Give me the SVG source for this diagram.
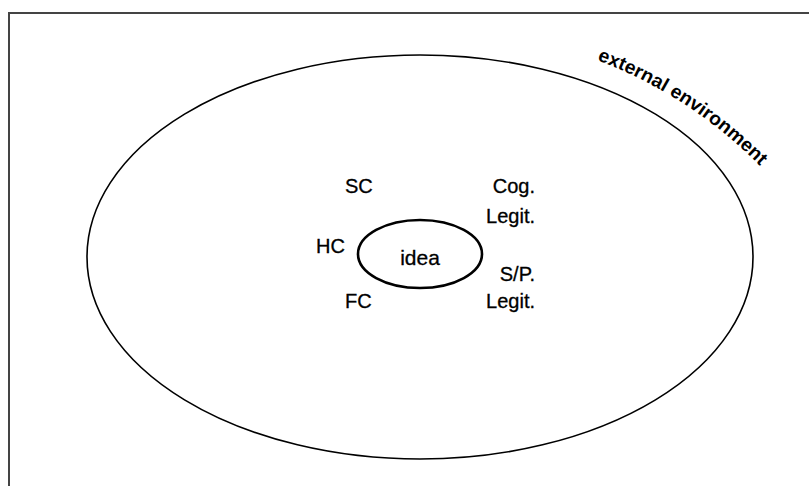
<svg xmlns="http://www.w3.org/2000/svg" width="809" height="486" viewBox="0 0 809 486">
<style>
.lbl{font-family:"Liberation Sans",Arial,sans-serif;font-size:20px;fill:#000;stroke:#000;stroke-width:0.3}
.ctr{text-anchor:middle}
.end{text-anchor:end}
</style>
<defs>
<path id="envPath" d="M 597,60 Q 692,96 764,170"/>
</defs>
<rect x="9" y="13" width="830" height="500" fill="#fff" stroke="#444" stroke-width="2"/>
<g id="environment">
<ellipse cx="420" cy="257" rx="333" ry="202" fill="none" stroke="#000" stroke-width="1.6"/>
<text font-family="'Liberation Sans',Arial,sans-serif" font-size="19" font-weight="bold" fill="#000"><textPath href="#envPath" textLength="196" lengthAdjust="spacingAndGlyphs">external environment</textPath></text>
</g>
<g id="idea">
<ellipse cx="420" cy="254" rx="62" ry="34" fill="none" stroke="#000" stroke-width="2.6"/>
<text class="lbl ctr" x="420" y="265" style="font-size:21px">idea</text>
</g>
<g id="SC"><text class="lbl" x="345" y="193">SC</text></g>
<g id="HC"><text class="lbl" x="316" y="253">HC</text></g>
<g id="FC"><text class="lbl" x="345" y="308">FC</text></g>
<g id="CogLegit"><text class="lbl end" x="535" y="193">Cog.</text><text class="lbl end" x="535" y="223">Legit.</text></g>
<g id="SPLegit"><text class="lbl end" x="535" y="281">S/P.</text><text class="lbl end" x="535" y="308">Legit.</text></g>
<g id="connectors"></g>
</svg>
